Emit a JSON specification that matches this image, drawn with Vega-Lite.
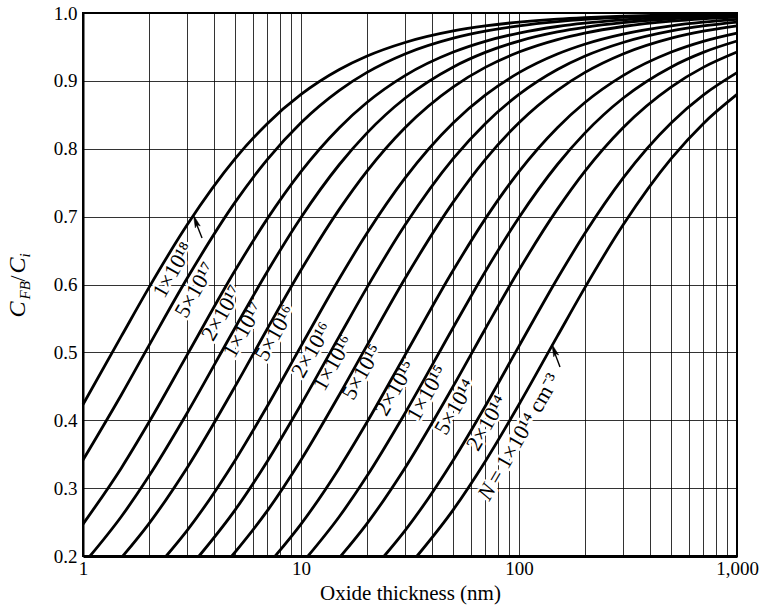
{
  "$schema": "https://vega.github.io/schema/vega-lite/v6.json",
  "width": 654,
  "height": 543,
  "autosize": {"type": "none"},
  "padding": {"left": 83, "top": 13, "right": 25, "bottom": 56},
  "background": "white",
  "config": {
    "font": "Liberation Serif",
    "view": {"stroke": "#000", "strokeWidth": 2},
    "axis": {
      "labelFont": "Liberation Serif", "titleFont": "Liberation Serif",
      "labelColor": "#000", "titleColor": "#000",
      "labelFontSize": 19, "titleFontSize": 21, "titleFontWeight": "normal",
      "grid": true, "gridColor": "#000", "gridWidth": 1, "gridOpacity": 0.8,
      "ticks": false, "tickSize": 0, "domainColor": "#000"
    }
  },
  "datasets": {
    "curves": [
      {"N":"1e18","x":1,"y":0.4232},{"N":"1e18","x":1.5,"y":0.5239},{"N":"1e18","x":2,"y":0.5947},{"N":"1e18","x":3,"y":0.6876},{"N":"1e18","x":5,"y":0.7858},{"N":"1e18","x":7,"y":0.8370},{"N":"1e18","x":10,"y":0.8800},{"N":"1e18","x":15,"y":0.9167},{"N":"1e18","x":20,"y":0.9362},{"N":"1e18","x":30,"y":0.9565},{"N":"1e18","x":50,"y":0.9735},{"N":"1e18","x":70,"y":0.9809},{"N":"1e18","x":100,"y":0.9866},{"N":"1e18","x":150,"y":0.9910},{"N":"1e18","x":200,"y":0.9932},{"N":"1e18","x":300,"y":0.9955},{"N":"1e18","x":500,"y":0.9973},{"N":"1e18","x":700,"y":0.9981},{"N":"1e18","x":1000,"y":0.9986},
      {"N":"5e17","x":1,"y":0.3415},{"N":"5e17","x":1.5,"y":0.4376},{"N":"5e17","x":2,"y":0.5092},{"N":"5e17","x":3,"y":0.6088},{"N":"5e17","x":5,"y":0.7217},{"N":"5e17","x":7,"y":0.7841},{"N":"5e17","x":10,"y":0.8384},{"N":"5e17","x":15,"y":0.8861},{"N":"5e17","x":20,"y":0.9121},{"N":"5e17","x":30,"y":0.9396},{"N":"5e17","x":50,"y":0.9629},{"N":"5e17","x":70,"y":0.9732},{"N":"5e17","x":100,"y":0.9811},{"N":"5e17","x":150,"y":0.9873},{"N":"5e17","x":200,"y":0.9905},{"N":"5e17","x":300,"y":0.9936},{"N":"5e17","x":500,"y":0.9962},{"N":"5e17","x":700,"y":0.9973},{"N":"5e17","x":1000,"y":0.9981},
      {"N":"2e17","x":1,"y":0.2470},{"N":"2e17","x":1.5,"y":0.3298},{"N":"2e17","x":2,"y":0.3962},{"N":"2e17","x":3,"y":0.4960},{"N":"2e17","x":5,"y":0.6213},{"N":"2e17","x":7,"y":0.6967},{"N":"2e17","x":10,"y":0.7664},{"N":"2e17","x":15,"y":0.8311},{"N":"2e17","x":20,"y":0.8678},{"N":"2e17","x":30,"y":0.9078},{"N":"2e17","x":50,"y":0.9425},{"N":"2e17","x":70,"y":0.9583},{"N":"2e17","x":100,"y":0.9704},{"N":"2e17","x":150,"y":0.9801},{"N":"2e17","x":200,"y":0.9850},{"N":"2e17","x":300,"y":0.9899},{"N":"2e17","x":500,"y":0.9939},{"N":"2e17","x":700,"y":0.9957},{"N":"2e17","x":1000,"y":0.9970},
      {"N":"1e17","x":1.0775,"y":0.2},{"N":"1e17","x":1.5,"y":0.2582},{"N":"1e17","x":2,"y":0.3170},{"N":"1e17","x":3,"y":0.4104},{"N":"1e17","x":5,"y":0.5371},{"N":"1e17","x":7,"y":0.6189},{"N":"1e17","x":10,"y":0.6988},{"N":"1e17","x":15,"y":0.7768},{"N":"1e17","x":20,"y":0.8227},{"N":"1e17","x":30,"y":0.8744},{"N":"1e17","x":50,"y":0.9206},{"N":"1e17","x":70,"y":0.9420},{"N":"1e17","x":100,"y":0.9587},{"N":"1e17","x":150,"y":0.9721},{"N":"1e17","x":200,"y":0.9789},{"N":"1e17","x":300,"y":0.9858},{"N":"1e17","x":500,"y":0.9915},{"N":"1e17","x":700,"y":0.9939},{"N":"1e17","x":1000,"y":0.9957},
      {"N":"5e16","x":1.524,"y":0.2},{"N":"5e16","x":2,"y":0.2470},{"N":"5e16","x":3,"y":0.3298},{"N":"5e16","x":5,"y":0.4506},{"N":"5e16","x":7,"y":0.5345},{"N":"5e16","x":10,"y":0.6213},{"N":"5e16","x":15,"y":0.7110},{"N":"5e16","x":20,"y":0.7664},{"N":"5e16","x":30,"y":0.8311},{"N":"5e16","x":50,"y":0.8913},{"N":"5e16","x":70,"y":0.9199},{"N":"5e16","x":100,"y":0.9425},{"N":"5e16","x":150,"y":0.9609},{"N":"5e16","x":200,"y":0.9704},{"N":"5e16","x":300,"y":0.9801},{"N":"5e16","x":500,"y":0.9880},{"N":"5e16","x":700,"y":0.9914},{"N":"5e16","x":1000,"y":0.9939},
      {"N":"2e16","x":2.4095,"y":0.2},{"N":"2e16","x":3,"y":0.2374},{"N":"2e16","x":5,"y":0.3416},{"N":"2e16","x":7,"y":0.4207},{"N":"2e16","x":10,"y":0.5092},{"N":"2e16","x":15,"y":0.6088},{"N":"2e16","x":20,"y":0.6748},{"N":"2e16","x":30,"y":0.7568},{"N":"2e16","x":50,"y":0.8384},{"N":"2e16","x":70,"y":0.8790},{"N":"2e16","x":100,"y":0.9121},{"N":"2e16","x":150,"y":0.9396},{"N":"2e16","x":200,"y":0.9540},{"N":"2e16","x":300,"y":0.9689},{"N":"2e16","x":500,"y":0.9811},{"N":"2e16","x":700,"y":0.9864},{"N":"2e16","x":1000,"y":0.9905},
      {"N":"1e16","x":3.4075,"y":0.2},{"N":"1e16","x":5,"y":0.2684},{"N":"1e16","x":7,"y":0.3393},{"N":"1e16","x":10,"y":0.4232},{"N":"1e16","x":15,"y":0.5239},{"N":"1e16","x":20,"y":0.5947},{"N":"1e16","x":30,"y":0.6876},{"N":"1e16","x":50,"y":0.7858},{"N":"1e16","x":70,"y":0.8370},{"N":"1e16","x":100,"y":0.8800},{"N":"1e16","x":150,"y":0.9167},{"N":"1e16","x":200,"y":0.9362},{"N":"1e16","x":300,"y":0.9565},{"N":"1e16","x":500,"y":0.9735},{"N":"1e16","x":700,"y":0.9809},{"N":"1e16","x":1000,"y":0.9866},
      {"N":"5e15","x":4.82,"y":0.2},{"N":"5e15","x":7,"y":0.2664},{"N":"5e15","x":10,"y":0.3415},{"N":"5e15","x":15,"y":0.4376},{"N":"5e15","x":20,"y":0.5092},{"N":"5e15","x":30,"y":0.6088},{"N":"5e15","x":50,"y":0.7217},{"N":"5e15","x":70,"y":0.7840},{"N":"5e15","x":100,"y":0.8384},{"N":"5e15","x":150,"y":0.8861},{"N":"5e15","x":200,"y":0.9121},{"N":"5e15","x":300,"y":0.9396},{"N":"5e15","x":500,"y":0.9629},{"N":"5e15","x":700,"y":0.9732},{"N":"5e15","x":1000,"y":0.9811},
      {"N":"2e15","x":7.62,"y":0.2},{"N":"2e15","x":10,"y":0.2470},{"N":"2e15","x":15,"y":0.3298},{"N":"2e15","x":20,"y":0.3962},{"N":"2e15","x":30,"y":0.4960},{"N":"2e15","x":50,"y":0.6213},{"N":"2e15","x":70,"y":0.6967},{"N":"2e15","x":100,"y":0.7664},{"N":"2e15","x":150,"y":0.8311},{"N":"2e15","x":200,"y":0.8678},{"N":"2e15","x":300,"y":0.9078},{"N":"2e15","x":500,"y":0.9425},{"N":"2e15","x":700,"y":0.9583},{"N":"2e15","x":1000,"y":0.9704},
      {"N":"1e15","x":10.775,"y":0.2},{"N":"1e15","x":15,"y":0.2582},{"N":"1e15","x":20,"y":0.3170},{"N":"1e15","x":30,"y":0.4104},{"N":"1e15","x":50,"y":0.5371},{"N":"1e15","x":70,"y":0.6189},{"N":"1e15","x":100,"y":0.6988},{"N":"1e15","x":150,"y":0.7768},{"N":"1e15","x":200,"y":0.8227},{"N":"1e15","x":300,"y":0.8744},{"N":"1e15","x":500,"y":0.9206},{"N":"1e15","x":700,"y":0.9420},{"N":"1e15","x":1000,"y":0.9587},
      {"N":"5e14","x":15.24,"y":0.2},{"N":"5e14","x":20,"y":0.2470},{"N":"5e14","x":30,"y":0.3298},{"N":"5e14","x":50,"y":0.4506},{"N":"5e14","x":70,"y":0.5345},{"N":"5e14","x":100,"y":0.6213},{"N":"5e14","x":150,"y":0.7110},{"N":"5e14","x":200,"y":0.7664},{"N":"5e14","x":300,"y":0.8311},{"N":"5e14","x":500,"y":0.8913},{"N":"5e14","x":700,"y":0.9199},{"N":"5e14","x":1000,"y":0.9425},
      {"N":"2e14","x":24.095,"y":0.2},{"N":"2e14","x":30,"y":0.2374},{"N":"2e14","x":50,"y":0.3416},{"N":"2e14","x":70,"y":0.4207},{"N":"2e14","x":100,"y":0.5092},{"N":"2e14","x":150,"y":0.6088},{"N":"2e14","x":200,"y":0.6748},{"N":"2e14","x":300,"y":0.7568},{"N":"2e14","x":500,"y":0.8384},{"N":"2e14","x":700,"y":0.8790},{"N":"2e14","x":1000,"y":0.9121},
      {"N":"1e14","x":34.075,"y":0.2},{"N":"1e14","x":50,"y":0.2684},{"N":"1e14","x":70,"y":0.3393},{"N":"1e14","x":100,"y":0.4232},{"N":"1e14","x":150,"y":0.5239},{"N":"1e14","x":200,"y":0.5947},{"N":"1e14","x":300,"y":0.6876},{"N":"1e14","x":500,"y":0.7858},{"N":"1e14","x":700,"y":0.8370},{"N":"1e14","x":1000,"y":0.8800}
    ],
    "labels": [
      {"t":"1×10¹⁸","x":2.587,"y":0.6214},
      {"t":"5×10¹⁷","x":3.265,"y":0.5919},
      {"t":"2×10¹⁷","x":4.34,"y":0.558},
      {"t":"1×10¹⁷","x":5.42,"y":0.533},
      {"t":"5×10¹⁶","x":7.6,"y":0.5285},
      {"t":"2×10¹⁶","x":11.23,"y":0.5035},
      {"t":"1×10¹⁶","x":14.02,"y":0.4844},
      {"t":"5×10¹⁵","x":19.05,"y":0.4711},
      {"t":"2×10¹⁵","x":27.0,"y":0.4475},
      {"t":"1×10¹⁵","x":37.84,"y":0.4401},
      {"t":"5×10¹⁴","x":50.85,"y":0.4195},
      {"t":"2×10¹⁴","x":71.3,"y":0.396},
      {"t":"N","x":71.3,"y":0.2943},
      {"t":"= 1×10¹⁴ cm⁻³","x":104.9,"y":0.3873}
    ],
    "arrows": [
      {"x":3.515,"y":0.6685,"x2":3.31,"y2":0.69},
      {"x":154.2,"y":0.4785,"x2":145.5,"y2":0.5}
    ],
    "heads": [
      {"x":3.29,"y":0.693},
      {"x":145.0,"y":0.503}
    ],
    "yt": [{"x":0.542,"y":0.6015}]
  },
  "encoding": {
    "x": {
      "field": "x", "type": "quantitative",
      "scale": {"type": "log", "domain": [1, 1000], "nice": false},
      "axis": {
        "values": [1,2,3,4,5,6,7,8,9,10,20,30,40,50,60,70,80,90,100,200,300,400,500,600,700,800,900,1000],
        "labelExpr": "datum.value === 1 || datum.value === 10 || datum.value === 100 || datum.value === 1000 ? format(datum.value, ',') : ''",
        "labelOverlap": false, "labelFlush": false, "labelPadding": 3,
        "title": "Oxide thickness (nm)", "titlePadding": 4, "domainWidth": 3
      }
    },
    "y": {
      "field": "y", "type": "quantitative",
      "scale": {"domain": [0.2, 1.0], "nice": false, "zero": false},
      "axis": {
        "values": [0.2,0.3,0.4,0.5,0.6,0.7,0.8,0.9,1.0],
        "format": ".1f", "labelPadding": 6, "title": null, "domainWidth": 2
      }
    }
  },
  "layer": [
    {
      "data": {"name": "labels"},
      "mark": {"type": "text", "angle": 300, "fontSize": 22, "font": "Liberation Serif", "fill": "white", "stroke": "white", "strokeWidth": 5, "strokeJoin": "round", "baseline": "middle"},
      "encoding": {"text": {"field": "t"}}
    },
    {
      "data": {"name": "curves"},
      "mark": {"type": "line", "color": "#000", "strokeWidth": 2.8, "interpolate": "monotone"},
      "encoding": {"detail": {"field": "N"}}
    },
    {
      "data": {"name": "labels"},
      "transform": [{"filter": "datum.t != 'N'"}],
      "mark": {"type": "text", "angle": 300, "fontSize": 22, "font": "Liberation Serif", "color": "#000", "baseline": "middle"},
      "encoding": {"text": {"field": "t"}}
    },
    {
      "data": {"name": "labels"},
      "transform": [{"filter": "datum.t == 'N'"}],
      "mark": {"type": "text", "angle": 300, "fontSize": 22, "font": "Liberation Serif", "fontStyle": "italic", "color": "#000", "baseline": "middle"},
      "encoding": {"text": {"field": "t"}}
    },
    {
      "data": {"name": "arrows"},
      "mark": {"type": "rule", "color": "#000", "strokeWidth": 1.4},
      "encoding": {"x2": {"field": "x2"}, "y2": {"field": "y2"}}
    },
    {
      "data": {"name": "heads"},
      "mark": {"type": "point", "shape": "M0,-1L0.4,0.9L0,0.5L-0.4,0.9Z", "size": 170, "angle": 340, "filled": true, "fill": "#000", "stroke": "#000", "strokeWidth": 0.5, "opacity": 1},
      "encoding": {}
    },
    {
      "data": {"name": "yt"},
      "mark": {"type": "text", "text": "C", "angle": 270, "align": "left", "baseline": "alphabetic", "fontSize": 24, "fontStyle": "italic", "font": "Liberation Serif", "color": "#000", "dx": -34},
      "encoding": {}
    },
    {
      "data": {"name": "yt"},
      "mark": {"type": "text", "text": "FB", "angle": 270, "align": "left", "baseline": "alphabetic", "fontSize": 15, "fontStyle": "italic", "font": "Liberation Serif", "color": "#000", "dx": -16, "dy": 5},
      "encoding": {}
    },
    {
      "data": {"name": "yt"},
      "mark": {"type": "text", "text": "/", "angle": 270, "align": "left", "baseline": "alphabetic", "fontSize": 22, "font": "Liberation Serif", "color": "#000", "dx": 2},
      "encoding": {}
    },
    {
      "data": {"name": "yt"},
      "mark": {"type": "text", "text": "C", "angle": 270, "align": "left", "baseline": "alphabetic", "fontSize": 24, "fontStyle": "italic", "font": "Liberation Serif", "color": "#000", "dx": 10},
      "encoding": {}
    },
    {
      "data": {"name": "yt"},
      "mark": {"type": "text", "text": "i", "angle": 270, "align": "left", "baseline": "alphabetic", "fontSize": 15, "fontStyle": "italic", "font": "Liberation Serif", "color": "#000", "dx": 26, "dy": 5},
      "encoding": {}
    }
  ]
}
